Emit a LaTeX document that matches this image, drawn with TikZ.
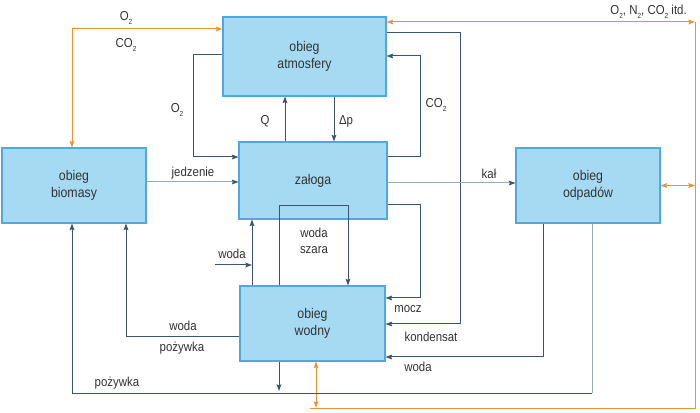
\documentclass[tikz,border=0pt]{standalone}
\usepackage{fontspec}
\setmainfont{Liberation Sans}[FakeStretch=0.88]
\usetikzlibrary{arrows.meta}
\definecolor{boxfill}{HTML}{A6DAF3}
\definecolor{boxline}{HTML}{4FA9DC}
\definecolor{navy}{HTML}{3A5570}
\definecolor{pale}{HTML}{98ADBC}
\definecolor{orng}{HTML}{E8953A}
\newcommand\dn[1]{\raisebox{-0.5ex}{\fontsize{5.5pt}{6pt}\selectfont #1}}
\tikzset{
  box/.style={draw=boxline, fill=boxfill, line width=0.8pt, inner sep=0pt, align=center,
    font=\fontsize{10.5pt}{12.8pt}\selectfont, text=black!80},
  tip/.style={-{Stealth[length=5pt,width=3.6pt,inset=0.8pt,color=navy]}},
  otip/.style={-{Stealth[length=5pt,width=3.6pt,inset=0.8pt]}},
  bitip/.style={{Stealth[length=5pt,width=3.6pt,inset=0.8pt]}-{Stealth[length=5pt,width=3.6pt,inset=0.8pt]}},
  nline/.style={draw=navy, line width=0.75pt},
  pline/.style={draw=pale, line width=0.75pt},
  oline/.style={draw=orng, line width=0.75pt},
  lbl/.style={inner sep=0pt, font=\fontsize{9.75pt}{11.5pt}\selectfont, text=black!80, align=center}
}
\begin{document}
\begin{tikzpicture}[x=0.75pt,y=-0.75pt]
\useasboundingbox (0,0) rectangle (700,413);
% boxes
\node[box, minimum width=122.25pt, minimum height=59.25pt] (atm) at (304.5,56.5) {obieg\\atmosfery};
\node[box, minimum width=108pt, minimum height=56.25pt] (bio) at (74,185.5) {obieg\\biomasy};
\node[box, minimum width=111pt, minimum height=57.75pt] (zal) at (313,180.5) {załoga};
\node[box, minimum width=108pt, minimum height=56.25pt] (odp) at (588,185.5) {obieg\\odpadów};
\node[box, minimum width=108.75pt, minimum height=56.25pt] (wod) at (312.5,323.5) {obieg\\wodny};
% helper coordinates
\coordinate (o2c) at (72,29);
\coordinate (ne) at (695,22);
\coordinate (se) at (695,408);
\coordinate (sw) at (310,408);
\coordinate (wb) at (316,408);
\coordinate (c1) at (193,157);
\coordinate (c2) at (420,56);
\coordinate (c3) at (460,324);
\coordinate (c4) at (420,298);
\coordinate (c5) at (72,393.4);
\coordinate (c7) at (592,393.4);
\coordinate (c6) at (279,391);
\coordinate (win) at (215,265);
% orange connectors
\draw[oline,otip] (o2c) -- (atm.west |- o2c);
\draw[oline,otip] (o2c) -- (bio.north -| o2c);
\draw[oline,bitip] (atm.east |- ne) -- (ne);
\draw[oline] (ne) -- (se) -- (sw);
\draw[oline,bitip] (odp.east) -- (odp.east -| ne);
\draw[oline,bitip] (wod.south -| wb) -- (wb);
% navy connectors
\draw[nline,tip] (atm.west |- 0,55) -| (c1) -- (zal.west |- c1);
\draw[pline,tip] (bio.east |- 0,182) -- (zal.west |- 0,182);
\draw[nline,tip] (zal.north -| 285,0) -- (atm.south -| 285,0);
\draw[nline,tip] (atm.south -| 334,0) -- (zal.north -| 334,0);
\draw[nline,tip] (zal.east |- 0,157) -| (c2) -- (atm.east |- c2);
\draw[nline,tip] (atm.east |- 0,33) -| (c3) -- (wod.east |- c3);
\draw[pline,tip] (zal.east |- 0,183) -- (odp.west |- 0,183);
\draw[nline,tip] (zal.east |- 0,205) -| (c4) -- (wod.east |- c4);
\draw[nline,tip] (odp.south -| 543,0) |- (wod.east |- 0,357);
\draw[pline] (odp.south -| c7) -- (c7);
\draw[nline,tip] (c7) -- (c5) -- (bio.south -| c5);
\draw[nline,tip] (wod.south -| c6) -- (c6);
\draw[nline,tip] (wod.west |- 0,337) -| (bio.south -| 126,0);
\draw[nline,tip] (win) -- (win -| 252,0);
\draw[nline,tip] (wod.north -| 252,0) -- (zal.south -| 252,0);
\draw[nline,tip] (wod.north -| 279,0) -- (279,206) -- (348,206) -- (wod.north -| 348,0);
% labels
\node[lbl] (l1) at (126,18) {O\dn{2}};
\node[lbl] (l2) at (126,45) {CO\dn{2}};
\node[lbl] (l3) at (177,110) {O\dn{2}};
\node[lbl] (l4) at (265,121) {Q};
\node[lbl] (l5) at (346,121) {Δp};
\node[lbl] (l6) at (436,105) {CO\dn{2}};
\node[lbl, anchor=east] (l7) at (687,12) {O\dn{2}, N\dn{2}, CO\dn{2} itd.};
\node[lbl] (l8) at (193,173) {jedzenie};
\node[lbl] (l9) at (489,174) {kał};
\node[lbl] (l10) at (232,254) {woda};
\node[lbl] (l11) at (314,241) {woda\\szara};
\node[lbl] (l12) at (408,309) {mocz};
\node[lbl] (l13) at (431,337) {kondensat};
\node[lbl] (l14) at (418,367) {woda};
\node[lbl] (l15) at (183,326) {woda};
\node[lbl] (l16) at (182,348) {pożywka};
\node[lbl] (l17) at (117,383) {pożywka};
\end{tikzpicture}
\end{document}
